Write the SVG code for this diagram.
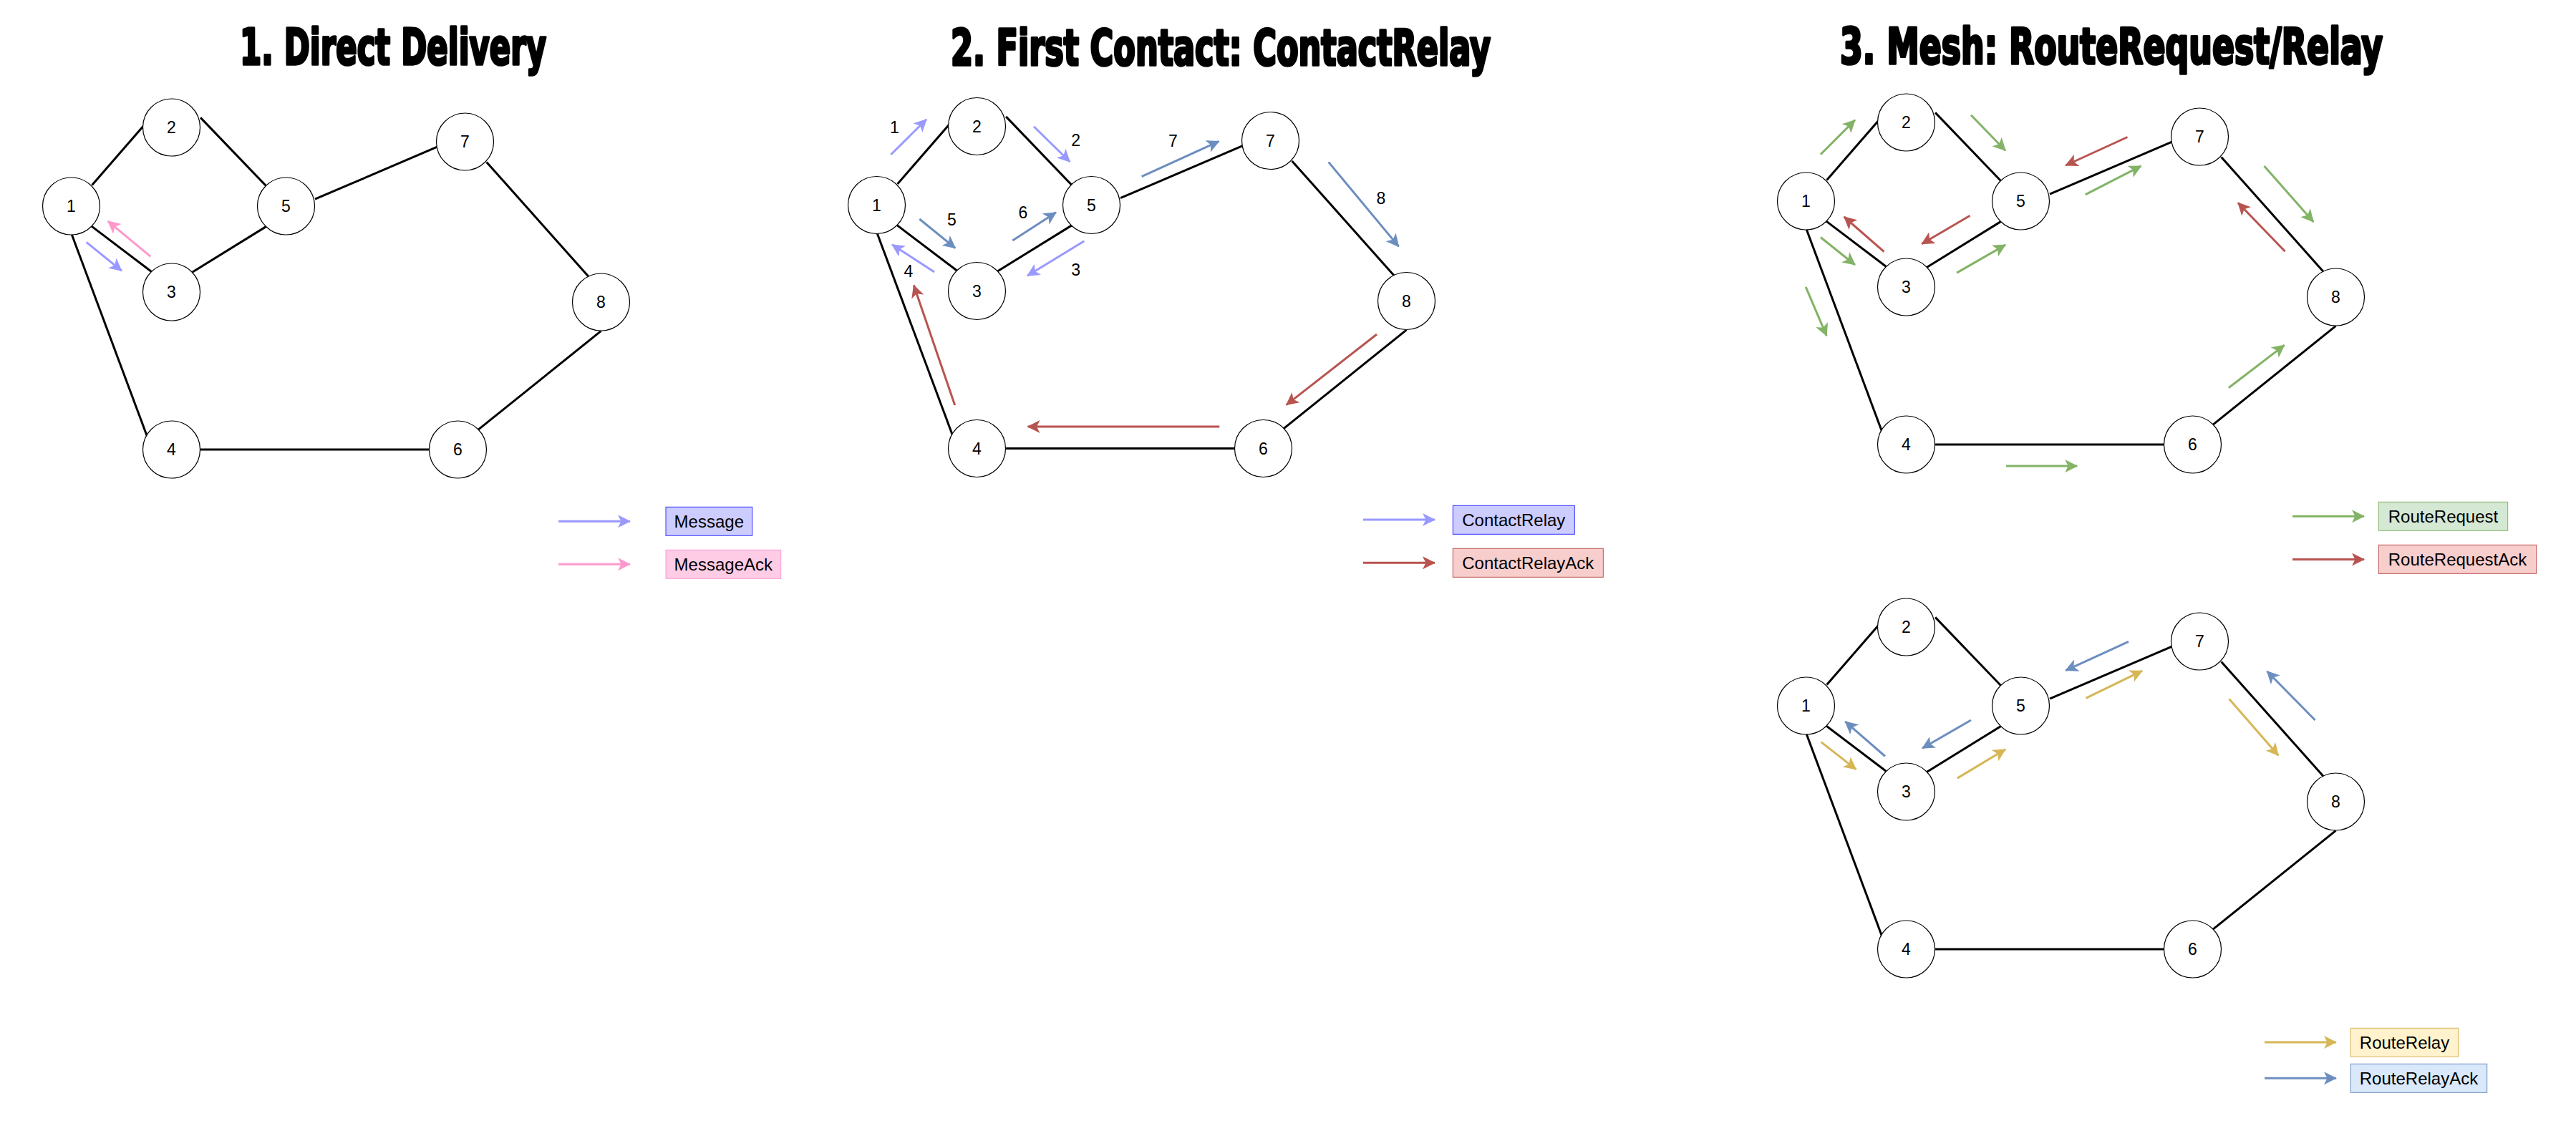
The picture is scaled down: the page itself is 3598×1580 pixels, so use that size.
<svg xmlns="http://www.w3.org/2000/svg" width="3598" height="1580" viewBox="0 0 3598 1580">
<style>
.bg{fill:#fff}
.edge{stroke:#000;stroke-width:3;fill:none}
.node circle{fill:#fff;stroke:#000;stroke-width:1.2}
.lbl{font-family:"Liberation Sans",Arial,sans-serif;font-size:23px;text-anchor:middle;fill:#000}
.title{font-family:"DejaVu Sans Condensed","Liberation Sans",sans-serif;font-weight:bold;font-size:66px;text-anchor:middle;fill:#000;stroke:#000;stroke-width:3.5;stroke-linejoin:round}
.leg{font-family:"Liberation Sans",Arial,sans-serif;font-size:24px;text-anchor:middle;fill:#000}
.ar{stroke-width:3;fill:none}
.pu{stroke:#9999FF;marker-end:url(#mpu)}
.pk{stroke:#FF99CC;marker-end:url(#mpk)}
.bl{stroke:#6C8EBF;marker-end:url(#mbl)}
.rd{stroke:#B85450;marker-end:url(#mrd)}
.gr{stroke:#82B366;marker-end:url(#mgr)}
.gd{stroke:#D6B656;marker-end:url(#mgd)}
</style>
<defs>
<marker id="mpu" markerUnits="userSpaceOnUse" markerWidth="18" markerHeight="18" viewBox="0 0 18 18" refX="17" refY="9" orient="auto"><path d="M0,0 L18,9 L0,18 L4.5,9 Z" fill="#9999FF"/></marker>
<marker id="mpk" markerUnits="userSpaceOnUse" markerWidth="18" markerHeight="18" viewBox="0 0 18 18" refX="17" refY="9" orient="auto"><path d="M0,0 L18,9 L0,18 L4.5,9 Z" fill="#FF99CC"/></marker>
<marker id="mbl" markerUnits="userSpaceOnUse" markerWidth="18" markerHeight="18" viewBox="0 0 18 18" refX="17" refY="9" orient="auto"><path d="M0,0 L18,9 L0,18 L4.5,9 Z" fill="#6C8EBF"/></marker>
<marker id="mrd" markerUnits="userSpaceOnUse" markerWidth="18" markerHeight="18" viewBox="0 0 18 18" refX="17" refY="9" orient="auto"><path d="M0,0 L18,9 L0,18 L4.5,9 Z" fill="#B85450"/></marker>
<marker id="mgr" markerUnits="userSpaceOnUse" markerWidth="18" markerHeight="18" viewBox="0 0 18 18" refX="17" refY="9" orient="auto"><path d="M0,0 L18,9 L0,18 L4.5,9 Z" fill="#82B366"/></marker>
<marker id="mgd" markerUnits="userSpaceOnUse" markerWidth="18" markerHeight="18" viewBox="0 0 18 18" refX="17" refY="9" orient="auto"><path d="M0,0 L18,9 L0,18 L4.5,9 Z" fill="#D6B656"/></marker>
<g id="edges-base">
<line x1="128.6" y1="258.5" x2="200.5" y2="175.8"/>
<line x1="280.1" y1="164.4" x2="372.7" y2="260.8"/>
<line x1="440" y1="278.2" x2="610.7" y2="205.2"/>
<line x1="679.6" y1="226.4" x2="823.5" y2="388"/>
<line x1="839.5" y1="462.4" x2="668.1" y2="600.1"/>
<line x1="600.8" y1="628" x2="280.1" y2="628"/>
<line x1="205.1" y1="608.4" x2="100.3" y2="327.8"/>
<line x1="127" y1="315.4" x2="211.2" y2="379.2"/>
<line x1="268.6" y1="380.2" x2="372.7" y2="315.9"/>
</g>
</defs>
<rect class="bg" x="0" y="0" width="3598" height="1580"/>

<!-- Titles -->
<g transform="translate(0,90) scale(1,1.06)"><text id="title1" class="title" x="549" y="0" textLength="428" lengthAdjust="spacingAndGlyphs">1. Direct Delivery</text></g>
<g transform="translate(0,91) scale(1,1.06)"><text id="title2" class="title" x="1705" y="0" textLength="754" lengthAdjust="spacingAndGlyphs">2. First Contact: ContactRelay</text></g>
<g transform="translate(0,89) scale(1,1.06)"><text id="title3" class="title" x="2949" y="0" textLength="758" lengthAdjust="spacingAndGlyphs">3. Mesh: RouteRequest/Relay</text></g>

<!-- Connectors -->
<g id="connectors">
<g class="edge"><use href="#edges-base"/></g>
<g class="edge" transform="translate(1125,-1.5)"><use href="#edges-base"/></g>
<g class="edge" transform="translate(2423,-7)"><use href="#edges-base"/></g>
<g class="edge" transform="translate(2423,698)"><use href="#edges-base"/></g>

<!-- section 1 -->
<line class="ar pk" x1="210.3" y1="358.3" x2="150.7" y2="309"/>
<line class="ar pu" x1="120.7" y1="338.3" x2="170" y2="378.3"/>

<!-- section 2 -->
<line class="ar pu" x1="1244.3" y1="216" x2="1294" y2="166.7"/>
<line class="ar pu" x1="1444" y1="176.7" x2="1494.3" y2="226"/>
<line class="ar pu" x1="1514.3" y1="336.7" x2="1435" y2="385.3"/>
<line class="ar pu" x1="1305" y1="380" x2="1246" y2="341.7"/>
<line class="ar bl" x1="1284.3" y1="306" x2="1334.3" y2="346.7"/>
<line class="ar bl" x1="1414.3" y1="336" x2="1475" y2="296.7"/>
<line class="ar bl" x1="1594.6" y1="246.6" x2="1702.6" y2="197.4"/>
<line class="ar bl" x1="1855.6" y1="226.4" x2="1953.6" y2="344.4"/>
<line class="ar rd" x1="1333.7" y1="566.1" x2="1276.3" y2="398.5"/>
<line class="ar rd" x1="1923" y1="467" x2="1796.7" y2="565.6"/>
<line class="ar rd" x1="1703.3" y1="596" x2="1435.5" y2="596"/>

<!-- section 3 top -->
<line class="ar gr" x1="2542.9" y1="215.8" x2="2591" y2="167.6"/>
<line class="ar gr" x1="2753" y1="160.7" x2="2801.1" y2="210.3"/>
<line class="ar gr" x1="2912.7" y1="271.8" x2="2990.6" y2="231.9"/>
<line class="ar gr" x1="3162.5" y1="231.9" x2="3231.3" y2="309.9"/>
<line class="ar gr" x1="2542.9" y1="331.5" x2="2591" y2="370"/>
<line class="ar gr" x1="2733.1" y1="381.1" x2="2801.1" y2="342"/>
<line class="ar gr" x1="2522.2" y1="400.8" x2="2551.3" y2="469.2"/>
<line class="ar gr" x1="2801.9" y1="651.1" x2="2901.2" y2="651.1"/>
<line class="ar gr" x1="3112.9" y1="541.8" x2="3190.8" y2="482.1"/>
<line class="ar rd" x1="2971.5" y1="191.5" x2="2885.2" y2="231"/>
<line class="ar rd" x1="2751.5" y1="301.2" x2="2684.2" y2="340.7"/>
<line class="ar rd" x1="2631.5" y1="351.7" x2="2575.7" y2="303"/>
<line class="ar rd" x1="3191.6" y1="351.2" x2="3125.9" y2="283.3"/>

<!-- section 3 bottom -->
<line class="ar gd" x1="2543.6" y1="1036.6" x2="2592.5" y2="1074.9"/>
<line class="ar gd" x1="2733.9" y1="1087.1" x2="2801.1" y2="1046.8"/>
<line class="ar gd" x1="2913.4" y1="975.4" x2="2992.1" y2="937.1"/>
<line class="ar gd" x1="3113.6" y1="976.4" x2="3182.4" y2="1055.5"/>
<line class="ar bl" x1="2973" y1="896.3" x2="2885.2" y2="936.6"/>
<line class="ar bl" x1="2753" y1="1006" x2="2685" y2="1045.3"/>
<line class="ar bl" x1="2633" y1="1056.5" x2="2577.3" y2="1008"/>
<line class="ar bl" x1="3233.6" y1="1006" x2="3166.4" y2="937.7"/>

<!-- legend arrows -->
<line class="ar pu" x1="780" y1="728.3" x2="880" y2="728.3"/>
<line class="ar pk" x1="780" y1="788.3" x2="880" y2="788.3"/>
<line class="ar pu" x1="1904" y1="726" x2="2004" y2="726"/>
<line class="ar rd" x1="1904" y1="786.3" x2="2004" y2="786.3"/>
<line class="ar gr" x1="3202" y1="721.3" x2="3302" y2="721.3"/>
<line class="ar rd" x1="3202" y1="781.5" x2="3302" y2="781.5"/>
<line class="ar gd" x1="3163" y1="1456" x2="3263" y2="1456"/>
<line class="ar bl" x1="3163" y1="1506.3" x2="3263" y2="1506.3"/>
</g>

<!-- step labels section 2 -->
<g id="step-labels">
<text class="lbl" x="1249.3" y="186.3">1</text>
<text class="lbl" x="1502.7" y="204">2</text>
<text class="lbl" x="1502.7" y="385.3">3</text>
<text class="lbl" x="1269" y="387.3">4</text>
<text class="lbl" x="1329.3" y="315.3">5</text>
<text class="lbl" x="1429" y="305.3">6</text>
<text class="lbl" x="1638.3" y="205.4">7</text>
<text class="lbl" x="1929" y="285.3">8</text>
</g>

<!-- Section 1 nodes -->
<g id="s1-n1" class="node"><circle cx="99.5" cy="288" r="40"/><text class="lbl" x="99.5" y="296">1</text></g>
<g id="s1-n2" class="node"><circle cx="239.5" cy="178" r="40"/><text class="lbl" x="239.5" y="186">2</text></g>
<g id="s1-n3" class="node"><circle cx="239.5" cy="408" r="40"/><text class="lbl" x="239.5" y="416">3</text></g>
<g id="s1-n4" class="node"><circle cx="239.5" cy="628" r="40"/><text class="lbl" x="239.5" y="636">4</text></g>
<g id="s1-n5" class="node"><circle cx="399.5" cy="288" r="40"/><text class="lbl" x="399.5" y="296">5</text></g>
<g id="s1-n6" class="node"><circle cx="639.5" cy="628" r="40"/><text class="lbl" x="639.5" y="636">6</text></g>
<g id="s1-n7" class="node"><circle cx="649.5" cy="198" r="40"/><text class="lbl" x="649.5" y="206">7</text></g>
<g id="s1-n8" class="node"><circle cx="839.5" cy="422" r="40"/><text class="lbl" x="839.5" y="430">8</text></g>

<!-- Section 2 nodes -->
<g transform="translate(1125,-1.5)">
<g id="s2-n1" class="node"><circle cx="99.5" cy="288" r="40"/><text class="lbl" x="99.5" y="296">1</text></g>
<g id="s2-n2" class="node"><circle cx="239.5" cy="178" r="40"/><text class="lbl" x="239.5" y="186">2</text></g>
<g id="s2-n3" class="node"><circle cx="239.5" cy="408" r="40"/><text class="lbl" x="239.5" y="416">3</text></g>
<g id="s2-n4" class="node"><circle cx="239.5" cy="628" r="40"/><text class="lbl" x="239.5" y="636">4</text></g>
<g id="s2-n5" class="node"><circle cx="399.5" cy="288" r="40"/><text class="lbl" x="399.5" y="296">5</text></g>
<g id="s2-n6" class="node"><circle cx="639.5" cy="628" r="40"/><text class="lbl" x="639.5" y="636">6</text></g>
<g id="s2-n7" class="node"><circle cx="649.5" cy="198" r="40"/><text class="lbl" x="649.5" y="206">7</text></g>
<g id="s2-n8" class="node"><circle cx="839.5" cy="422" r="40"/><text class="lbl" x="839.5" y="430">8</text></g>
</g>

<!-- Section 3 top nodes -->
<g transform="translate(2423,-7)">
<g id="s3a-n1" class="node"><circle cx="99.5" cy="288" r="40"/><text class="lbl" x="99.5" y="296">1</text></g>
<g id="s3a-n2" class="node"><circle cx="239.5" cy="178" r="40"/><text class="lbl" x="239.5" y="186">2</text></g>
<g id="s3a-n3" class="node"><circle cx="239.5" cy="408" r="40"/><text class="lbl" x="239.5" y="416">3</text></g>
<g id="s3a-n4" class="node"><circle cx="239.5" cy="628" r="40"/><text class="lbl" x="239.5" y="636">4</text></g>
<g id="s3a-n5" class="node"><circle cx="399.5" cy="288" r="40"/><text class="lbl" x="399.5" y="296">5</text></g>
<g id="s3a-n6" class="node"><circle cx="639.5" cy="628" r="40"/><text class="lbl" x="639.5" y="636">6</text></g>
<g id="s3a-n7" class="node"><circle cx="649.5" cy="198" r="40"/><text class="lbl" x="649.5" y="206">7</text></g>
<g id="s3a-n8" class="node"><circle cx="839.5" cy="422" r="40"/><text class="lbl" x="839.5" y="430">8</text></g>
</g>

<!-- Section 3 bottom nodes -->
<g transform="translate(2423,698)">
<g id="s3b-n1" class="node"><circle cx="99.5" cy="288" r="40"/><text class="lbl" x="99.5" y="296">1</text></g>
<g id="s3b-n2" class="node"><circle cx="239.5" cy="178" r="40"/><text class="lbl" x="239.5" y="186">2</text></g>
<g id="s3b-n3" class="node"><circle cx="239.5" cy="408" r="40"/><text class="lbl" x="239.5" y="416">3</text></g>
<g id="s3b-n4" class="node"><circle cx="239.5" cy="628" r="40"/><text class="lbl" x="239.5" y="636">4</text></g>
<g id="s3b-n5" class="node"><circle cx="399.5" cy="288" r="40"/><text class="lbl" x="399.5" y="296">5</text></g>
<g id="s3b-n6" class="node"><circle cx="639.5" cy="628" r="40"/><text class="lbl" x="639.5" y="636">6</text></g>
<g id="s3b-n7" class="node"><circle cx="649.5" cy="198" r="40"/><text class="lbl" x="649.5" y="206">7</text></g>
<g id="s3b-n8" class="node"><circle cx="839.5" cy="422" r="40"/><text class="lbl" x="839.5" y="430">8</text></g>
</g>

<!-- Legends -->
<g id="leg-message"><rect x="930" y="708.3" width="120.7" height="40" fill="#CCCCFF" stroke="#3333FF" stroke-width="1"/><text class="leg" x="990.3" y="737">Message</text></g>
<g id="leg-messageack"><rect x="930" y="768.3" width="160.7" height="40" fill="#FFCCE6" stroke="#FF99CC" stroke-width="1"/><text class="leg" x="1010.3" y="797">MessageAck</text></g>
<g id="leg-contactrelay"><rect x="2029.3" y="706.3" width="170" height="40" fill="#CCCCFF" stroke="#3333FF" stroke-width="1"/><text class="leg" x="2114.3" y="735">ContactRelay</text></g>
<g id="leg-contactrelayack"><rect x="2029.3" y="766.3" width="210" height="40" fill="#F8CECC" stroke="#B85450" stroke-width="1"/><text class="leg" x="2134.3" y="795">ContactRelayAck</text></g>
<g id="leg-routerequest"><rect x="3322.3" y="701.3" width="180.4" height="40" fill="#D5E8D4" stroke="#82B366" stroke-width="1"/><text class="leg" x="3412.5" y="730">RouteRequest</text></g>
<g id="leg-routerequestack"><rect x="3322.3" y="761.3" width="220.4" height="40" fill="#F8CECC" stroke="#B85450" stroke-width="1"/><text class="leg" x="3432.5" y="790">RouteRequestAck</text></g>
<g id="leg-routerelay"><rect x="3283.3" y="1436.3" width="150.4" height="40" fill="#FFF2CC" stroke="#D6B656" stroke-width="1"/><text class="leg" x="3358.5" y="1465">RouteRelay</text></g>
<g id="leg-routerelayack"><rect x="3283.3" y="1486.3" width="190.4" height="40" fill="#DAE8FC" stroke="#6C8EBF" stroke-width="1"/><text class="leg" x="3378.5" y="1515">RouteRelayAck</text></g>
</svg>
